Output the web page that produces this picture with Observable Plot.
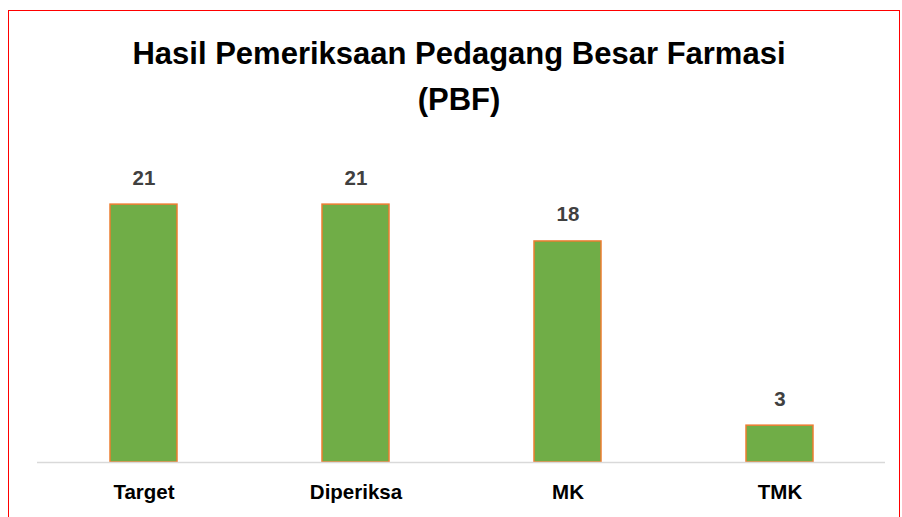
<!DOCTYPE html>
<html>
<head>
<meta charset="utf-8">
<script src="https://cdn.jsdelivr.net/npm/d3@7"></script>
<script src="https://cdn.jsdelivr.net/npm/@observablehq/plot@0.6"></script>
<style>
  html, body { margin: 0; padding: 0; background: #fff; }
  #wrap { position: relative; width: 902px; height: 517px; overflow: hidden; font-family: "Liberation Sans", Arial, sans-serif; }
  #border { position: absolute; left: 8px; top: 10px; width: 892px; height: 600px; border: 1.5px solid #ff0000; box-sizing: border-box; pointer-events: none; }
  #title { position: absolute; left: 0; width: 918px; top: 31px; text-align: center; font-weight: bold; font-size: 31px; line-height: 46px; color: #000; }
  #chart { position: absolute; left: 0; top: 140px; }
</style>
</head>
<body>
<div id="wrap">
  <div id="title">Hasil Pemeriksaan Pedagang Besar Farmasi<br>(PBF)</div>
  <div id="chart"></div>
  <div id="border"></div>
</div>
<script>
const categories = ["Target", "Diperiksa", "MK", "TMK"];
const values = [21, 21, 18, 3];

const data = categories.map((c, i) => ({category: c, value: values[i]}));

const chart = Plot.plot({
  width: 902,
  height: 377,
  marginLeft: 37,
  marginRight: 17,
  marginTop: 15,
  marginBottom: 55,
  style: {fontFamily: "Liberation Sans, Arial, sans-serif", fontSize: "20.5px", fontWeight: "bold", color: "#000", background: "transparent"},
  x: {domain: categories, paddingInner: 0.684, paddingOuter: 0.342, label: null},
  y: {domain: [0, 25], axis: null},
  marks: [
    Plot.barY(data, {x: "category", y: "value", fill: "#70AD47", stroke: "#ED7D31", strokeWidth: 1.5}),
    Plot.ruleY([0], {stroke: "#d9d9d9", strokeWidth: 1.5}),
    Plot.text(data, {x: "category", y: "value", text: d => String(d.value), dy: -26.6, fill: "#404040", fontSize: 20.5, fontWeight: "bold"}),
    Plot.axisX({tickSize: 0, tickPadding: 22.4, fontSize: 20.5, fontWeight: "bold", fill: "#000", label: null})
  ]
});
document.getElementById("chart").appendChild(chart);
</script>
</body>
</html>
